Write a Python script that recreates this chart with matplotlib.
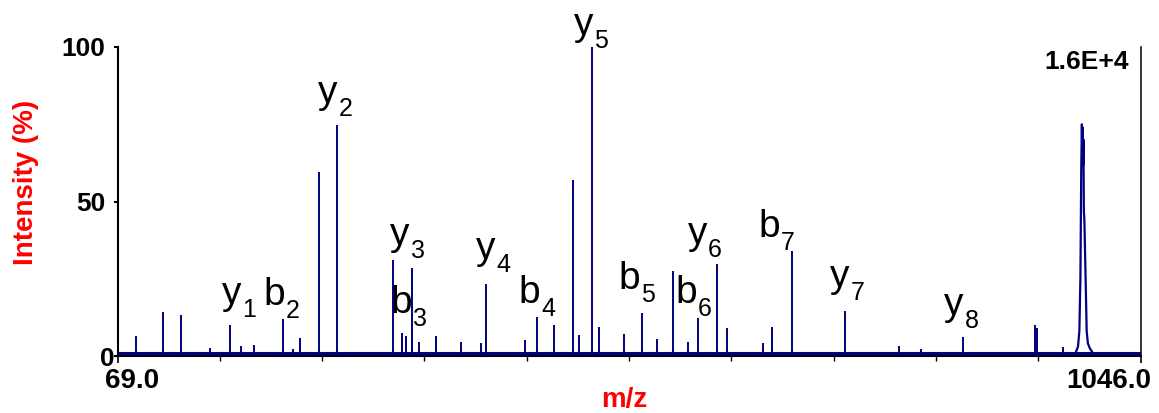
import matplotlib
matplotlib.use("Agg")
import matplotlib.pyplot as plt

# ---------------- data ----------------
mz_range = [69.0, 1046.0]
y_tick_values = [0, 50, 100]
scale_label = "1.6E+4"
noise_floor = 0.9  # % (average height of the noisy baseline)

peak_mz = [86.2, 112.9, 129.5, 157.8, 176.0, 186.5, 199.6, 218.9, 227.3, 236.8,
           243.5, 261.3, 278.8, 332.3, 340.5, 345.0, 349.8, 357.4, 373.4, 397.2,
           415.7, 420.5, 457.7, 469.4, 486.3, 503.8, 510.2, 521.7, 528.7, 552.5,
           570.1, 583.8, 599.7, 613.7, 623.6, 641.1, 651.3, 685.3, 694.3, 712.7,
           764.0, 815.8, 835.9, 876.7, 945.0, 947.4, 972.2]
peak_int = [6.5, 14.3, 13.3, 2.6, 10.0, 3.2, 3.6, 1.3, 12.1, 2.2,
            5.8, 59.5, 74.9, 31.1, 7.5, 6.5, 28.5, 4.4, 6.5, 4.4,
            4.1, 23.3, 5.2, 12.7, 10.0, 57.0, 6.8, 100.0, 9.3, 7.1,
            13.8, 5.4, 27.6, 4.6, 12.2, 29.8, 9.0, 4.1, 9.3, 34.0,
            14.6, 3.2, 2.2, 6.2, 9.9, 9.2, 3.0]

# broad precursor peak profile
broad_mz = [984.0, 986.3, 987.6, 988.6, 989.4, 990.0, 990.4, 990.8, 991.2, 991.5,
            991.9, 992.4, 993.4, 994.6, 995.8, 997.6, 999.5]
broad_int = [1.0, 3.0, 8.0, 25.0, 60.0, 75.0, 66.0, 74.0, 62.0, 70.0,
             47.0, 44.0, 28.0, 8.0, 4.0, 2.5, 1.5]

# fragment ion annotations
ion_letter = ["y", "b", "y", "y", "b", "y", "b", "y", "b", "b", "y", "b", "y", "y"]
ion_index = ["1", "2", "2", "3", "3", "4", "4", "5", "5", "6", "6", "7", "7", "8"]
ion_mz = [176.0, 227.3, 278.8, 332.3, 349.8, 420.5, 469.4, 521.7, 570.1, 623.6,
          641.1, 712.7, 764.0, 876.7]

# ---------------- layout ----------------
# offset (pixels) of each label's main glyph (left, baseline) from the peak top
label_offsets = [(-8, 21), (-20, 14), (-19, 22), (-3, 15), (-21, -45), (-10, 25),
                 (-18, 14), (-18, 12), (-24, 24), (-23, 15), (-29, 20), (-33, 14),
                 (-15, 24), (-19, 22)]

plt.rcParams["font.family"] = ["Liberation Sans", "DejaVu Sans"]
DPI = 100
fig = plt.figure(figsize=(11.59, 4.13), dpi=DPI)
ax = fig.add_axes([117.5 / 1159, (413 - 356) / 413, 1023 / 1159, 309 / 413])

navy = "#000080"
ax.vlines(peak_mz, 0, peak_int, color=navy, linewidth=1.4, zorder=3)
ax.plot(broad_mz, broad_int, color=navy, linewidth=1.6, zorder=3)
ax.plot(mz_range, [noise_floor, noise_floor], color=navy, linewidth=2.2,
        zorder=3, solid_capstyle="butt")

ax.set_xlim(*mz_range)
ax.set_ylim(0, 100)

ax.spines["top"].set_visible(False)
ax.spines["left"].set_linewidth(1.5)
ax.spines["bottom"].set_linewidth(1.5)
ax.spines["right"].set_linewidth(1.1)

# y ticks
ax.set_yticks(y_tick_values)
ax.set_yticklabels([str(v) for v in y_tick_values])
ax.tick_params(axis="y", direction="out", length=3, width=1.5, pad=5.5,
               labelsize=19)
for lbl in ax.get_yticklabels():
    lbl.set_fontweight("bold")
ax.yaxis.get_major_ticks()[0].set_pad(-0.8)

# x ticks: ends (major) plus tenths of the range (minor), labels drawn at ends
span = mz_range[1] - mz_range[0]
ax.set_xticks(mz_range)
ax.set_xticklabels(["", ""])
ax.set_xticks([mz_range[0] + k * span / 10 for k in range(1, 10)], minor=True)
ax.tick_params(axis="x", which="major", direction="out", length=5, width=1.2)
ax.tick_params(axis="x", which="minor", direction="out", length=3.5, width=1.0)

ax.annotate("%.1f" % mz_range[0], xy=(mz_range[0], 0),
            xycoords=("data", "axes fraction"), xytext=(-12, -12),
            textcoords="offset pixels", ha="left", va="top",
            fontsize=20, fontweight="bold", annotation_clip=False)
ax.annotate("%.1f" % mz_range[1], xy=(mz_range[1], 0),
            xycoords=("data", "axes fraction"), xytext=(11, -12),
            textcoords="offset pixels", ha="right", va="top",
            fontsize=20, fontweight="bold", annotation_clip=False)

# axis labels
ax.set_ylabel("Intensity (%)", color="red", fontsize=20, fontweight="bold")
ax.yaxis.set_label_coords((39 - 117.5) / 1023, (356 - 182.5) / 309)
ax.set_xlabel("m/z", color="red", fontsize=20, fontweight="bold")
ax.xaxis.set_label_coords((624 - 117.5) / 1023, (356 - 387) / 309)

# scale factor text
ax.text(1 - 12 / 1023, 1 - 3 / 309, scale_label, transform=ax.transAxes,
        ha="right", va="top", fontsize=19, fontweight="bold")

# ion labels
def nearest_intensity(m):
    i = min(range(len(peak_mz)), key=lambda k: abs(peak_mz[k] - m))
    return peak_int[i]

for letter, idx, m, (dx, dy) in zip(ion_letter, ion_index, ion_mz, label_offsets):
    h = nearest_intensity(m)
    main = ax.annotate(letter, xy=(m, h), xytext=(dx, dy),
                       textcoords="offset pixels", ha="left", va="baseline",
                       fontsize=28, annotation_clip=False, zorder=4)
    ax.annotate(idx, xy=(1, 0), xycoords=main, xytext=(1, -5),
                textcoords="offset pixels", ha="left", va="baseline",
                fontsize=18, annotation_clip=False, zorder=4)

fig.savefig("out.png", dpi=DPI)
